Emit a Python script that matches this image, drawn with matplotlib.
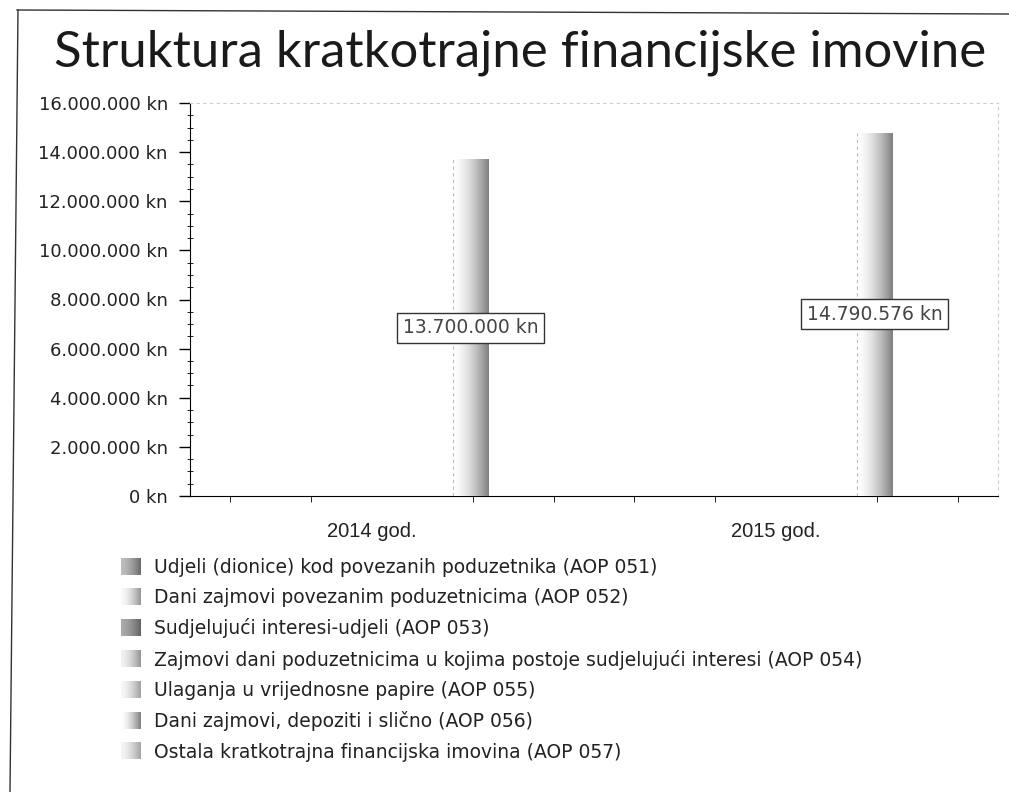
import matplotlib
matplotlib.use("Agg")
import matplotlib.pyplot as plt
import numpy as np
from matplotlib.colors import LinearSegmentedColormap
from matplotlib.patches import Rectangle
from matplotlib.image import BboxImage
from matplotlib.transforms import Bbox, TransformedBbox, ScaledTranslation
from matplotlib.legend_handler import HandlerBase
from matplotlib.ticker import FuncFormatter, MultipleLocator, FixedLocator

# podaci
godine = ["2014 god.", "2015 god."]
serije = [
    "Udjeli (dionice) kod povezanih poduzetnika (AOP 051)",
    "Dani zajmovi povezanim poduzetnicima (AOP 052)",
    "Sudjelujući interesi-udjeli (AOP 053)",
    "Zajmovi dani poduzetnicima u kojima postoje sudjelujući interesi (AOP 054)",
    "Ulaganja u vrijednosne papire (AOP 055)",
    "Dani zajmovi, depoziti i slično (AOP 056)",
    "Ostala kratkotrajna financijska imovina (AOP 057)",
]
aop_051 = [0, 0]
aop_052 = [0, 0]
aop_053 = [0, 0]
aop_054 = [0, 0]
aop_055 = [0, 0]
aop_056 = [13700000, 14790576]
aop_057 = [0, 0]
vrijednosti = [aop_051, aop_052, aop_053, aop_054, aop_055, aop_056, aop_057]

# gradijent (lijevo svijetlo -> desno tamno) za svaku seriju
boje = [
    ("#bdbdbd", "#6a6a6a"),
    ("#fafafa", "#959595"),
    ("#ababab", "#626262"),
    ("#f2f2f2", "#959595"),
    ("#f7f7f7", "#a0a0a0"),
    ("#ffffff", "#7f7f7f"),
    ("#f4f4f4", "#a4a4a4"),
]

def gradient_cmap(c0, c1):
    return LinearSegmentedColormap.from_list("g", [c0, c1], N=256)

grad = np.linspace(0, 1, 64).reshape(1, -1) ** 1.6


class GradientHandler(HandlerBase):
    def __init__(self, cmap):
        super().__init__()
        self.cmap = cmap

    def create_artists(self, legend, orig_handle, xdescent, ydescent,
                       width, height, fontsize, trans):
        bb = Bbox.from_bounds(-xdescent, -ydescent, width, height)
        img = BboxImage(TransformedBbox(bb, trans), cmap=self.cmap,
                        interpolation="bilinear")
        img.set_data(grad)
        rect = Rectangle((-xdescent, -ydescent), width, height,
                         facecolor="none", edgecolor="none", transform=trans)
        return [img, rect]


plt.rcParams["font.family"] = ["DejaVu Sans"]
fig = plt.figure(figsize=(10.09, 7.92), dpi=100)
ax = fig.add_axes([190 / 1009, 1 - 496 / 792, 808 / 1009, 393 / 792])

x = np.arange(len(godine))
slot = 0.097
sirina = 0.088
handles = []
for i, (naziv, vals) in enumerate(zip(serije, vrijednosti)):
    cmap = gradient_cmap(*boje[i])
    bars = ax.bar(x + (i - 3) * slot, vals, sirina, color=boje[i][1],
                  edgecolor="none", zorder=2)
    handles.append((bars, cmap))
    for b in bars:
        h = b.get_height()
        if h <= 0:
            continue
        x0 = b.get_x()
        im = ax.imshow(grad, extent=[x0, x0 + b.get_width(), 0, h],
                       aspect="auto", cmap=cmap, interpolation="bilinear",
                       zorder=3)
        im.set_clip_path(b)
        ax.plot([x0, x0], [0, h], color="#bbbbbb", lw=0.8,
                linestyle=(0, (3, 3)), zorder=4)
        ax.text(x0 + b.get_width() / 2, h / 2,
                f"{h:,.0f}".replace(",", ".") + " kn",
                ha="center", va="center", fontsize=13.5, color="#444444",
                zorder=5,
                bbox=dict(boxstyle="square,pad=0.3", fc="white",
                          ec="#333333", lw=1))

ax.set_xlim(-0.5, 1.5)
ax.set_ylim(0, 16000000)

ax.yaxis.set_major_locator(MultipleLocator(2000000))
ax.yaxis.set_minor_locator(MultipleLocator(500000))
ax.yaxis.set_major_formatter(
    FuncFormatter(lambda v, p: f"{v:,.0f}".replace(",", ".") + " kn"))
ax.tick_params(axis="y", which="major", length=8, width=1, pad=8,
               labelsize=13, labelcolor="#222222")
ax.tick_params(axis="y", which="minor", direction="inout", length=4)

ax.set_xticks(x)
ax.set_xticklabels(godine)
ax.xaxis.set_minor_locator(FixedLocator(np.arange(-0.4, 1.41, 0.2)))
ax.tick_params(axis="x", which="major", length=0, pad=19, labelsize=14.5,
               labelcolor="#222222")
ax.tick_params(axis="x", which="minor", length=4)
for lbl in ax.get_xticklabels():
    lbl.set_family(["Liberation Sans", "DejaVu Sans"])
    lbl.set_transform(lbl.get_transform() + ScaledTranslation(-0.2, 0, fig.dpi_scale_trans))

for s in ["top", "right"]:
    ax.spines[s].set_color("#cccccc")
    ax.spines[s].set_linestyle((0, (2, 4)))
    ax.spines[s].set_linewidth(0.8)

leg = ax.legend([h[0] for h in handles], serije,
                handler_map={h[0]: GradientHandler(h[1]) for h in handles},
                loc="upper left", bbox_to_anchor=(121 / 1009, 1 - 558 / 792),
                bbox_transform=fig.transFigure, frameon=False, fontsize=13.5,
                borderpad=0, borderaxespad=0, handlelength=1.05,
                handleheight=0.95, handletextpad=0.72, labelspacing=0.6)
for t in leg.get_texts():
    t.set_color("#222222")

fig.text(520 / 1009, 1 - 67 / 792, "Struktura kratkotrajne financijske imovine",
         ha="center", va="baseline", fontsize=36.6, family="Lato", color="#1a1a1a")

# okvir slike
fig.add_artist(plt.Line2D([17 / 1009, 1], [1 - 10 / 792, 1 - 14 / 792],
                          transform=fig.transFigure, color="#333333", lw=1))
fig.add_artist(plt.Line2D([18 / 1009, 10 / 1009], [1 - 10 / 792, 0],
                          transform=fig.transFigure, color="#333333", lw=1))

fig.savefig("out.png", dpi=100)
